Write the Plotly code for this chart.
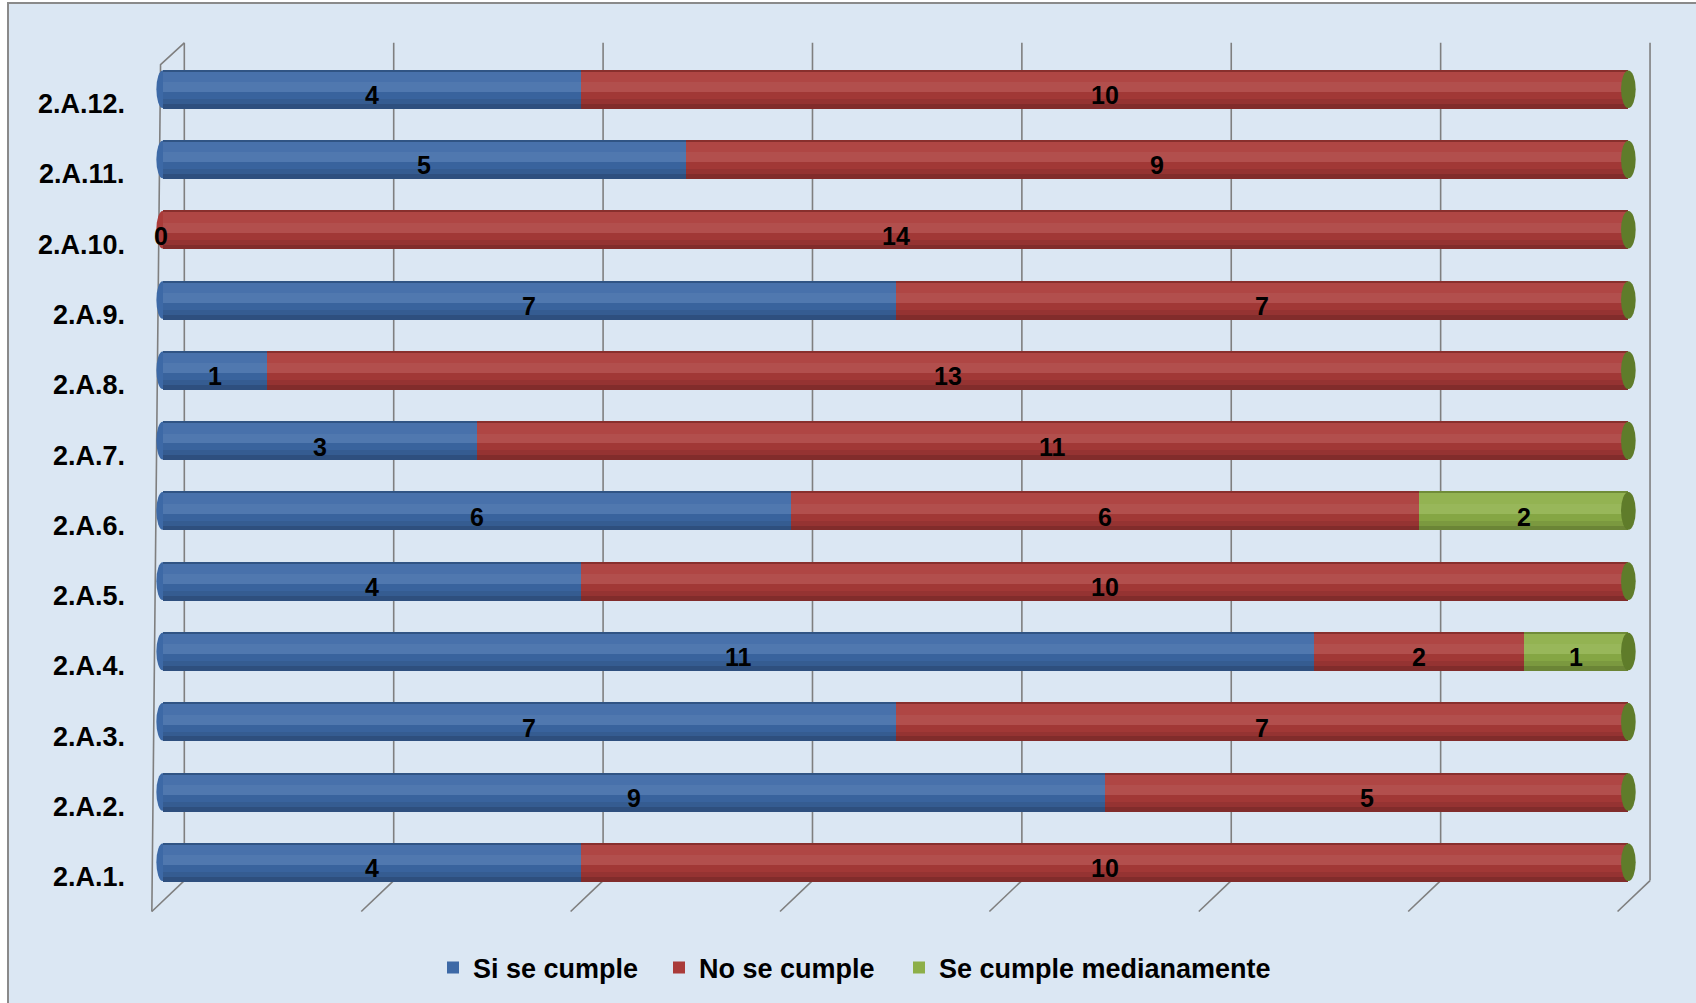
import plotly.graph_objects as go

# ---------------- data ----------------
categories = ["2.A.1.", "2.A.2.", "2.A.3.", "2.A.4.", "2.A.5.", "2.A.6.",
              "2.A.7.", "2.A.8.", "2.A.9.", "2.A.10.", "2.A.11.", "2.A.12."]
si_se_cumple = [4, 9, 7, 11, 4, 6, 3, 1, 7, 0, 5, 4]
no_se_cumple = [10, 5, 7, 2, 10, 6, 11, 13, 7, 14, 9, 10]
se_cumple_med = [None, None, None, 1, None, 2, None, None, None, None, None, None]
series_names = ["Si se cumple", "No se cumple", "Se cumple medianamente"]
x_ticks = [0, 2, 4, 6, 8, 10, 12, 14]

# ---------------- style ----------------
W, H = 1696, 1003
L, R, T, B = 126, 31, 40, 87
XR = [-0.35, 14.35]
YR = [-0.75, 11.7]
colors = ["#3D69A6", "#AA3B39", "#8DAF48"]
FONT = "Liberation Sans, Arial, sans-serif"
BAR_W = 0.555
HB = BAR_W / 2
legend_ids = ["legend", "legend2", "legend3"]
legend_px = [433, 659, 899]

series = [si_se_cumple, no_se_cumple, se_cumple_med]

fig = go.Figure()
for name, vals, col, lg in zip(series_names, series, colors, legend_ids):
    fig.add_trace(go.Bar(
        y=categories, x=vals, name=name, orientation="h",
        marker=dict(color=col, line=dict(width=0)), width=BAR_W,
        yaxis="y", hoverinfo="x+name", legend=lg))

# cylinder shading bands (offset, width, colour), each on its own overlay axis
bands = [
    (HB - 0.03, 0.03, "rgba(0,0,0,0.20)"),
    (0.10, HB - 0.13, "rgba(255,255,255,0.06)"),
    (-0.04, 0.14, "rgba(255,255,255,0.10)"),
    (-0.14, 0.10, "rgba(0,0,0,0.05)"),
    (-0.21, 0.07, "rgba(0,0,0,0.12)"),
    (-HB, HB - 0.21, "rgba(0,0,0,0.24)"),
]
overlay_axes = {}
for bi, (off, wid, rgba) in enumerate(bands):
    ax = "y%d" % (bi + 2)
    overlay_axes["yaxis%d" % (bi + 2)] = dict(
        type="category", categoryarray=categories, overlaying="y",
        matches="y", visible=False)
    for vals in series:
        fig.add_trace(go.Bar(
            y=categories, x=vals, orientation="h", showlegend=False,
            marker=dict(color=rgba, line=dict(width=0)),
            width=wid, offset=off, yaxis=ax, hoverinfo="skip"))

# ---------------- decorations ----------------
pw, ph = W - L - R, H - T - B
def px_x(p):
    return (p - L) / pw
def px_y(p):
    return 1 - (p - T) / ph

shapes = [dict(type="rect", xref="paper", yref="paper",
               x0=px_x(8), x1=px_x(W + 20), y0=px_y(H + 20), y1=px_y(3),
               fillcolor="#DBE7F3", line=dict(color="#8A8A8A", width=2),
               layer="below")]
gc = dict(color="#7F7F7F", width=1.6)
for k in x_ticks:
    shapes.append(dict(type="line", xref="x", yref="y", x0=k + 0.207, x1=k + 0.207,
                       y0=-0.26, y1=11.66, line=gc, layer="below"))
    shapes.append(dict(type="line", xref="x", yref="y", x0=k + 0.207, x1=k - 0.103,
                       y0=-0.26, y1=-0.70, line=gc, layer="below"))
shapes.append(dict(type="path", xref="x", yref="y",
                   path="M -0.103,-0.70 L -0.02,11.35 L 0.207,11.66",
                   line=gc, layer="below"))

lab_font = dict(family=FONT, size=25, color="black", weight="bold")
annotations = []
for i, cat in enumerate(categories):
    vals = [s[i] or 0 for s in series]
    total = sum(vals)
    first = next((c for v, c in zip(vals, colors) if v > 0), colors[1])
    # left rounded end
    shapes.append(dict(type="circle", xref="x", yref="y",
                       x0=-0.06, x1=0.06, y0=i - HB + 0.01, y1=i + HB - 0.01,
                       fillcolor=first, line=dict(width=0), layer="below"))
    # right end cap
    shapes.append(dict(type="circle", xref="x", yref="y",
                       x0=total - 0.07, x1=total + 0.07,
                       y0=i - HB + 0.01, y1=i + HB - 0.01,
                       fillcolor="#5F7C2A", line=dict(width=0), layer="above"))
    # category label (shifted down, like the 3-D original)
    annotations.append(dict(x=px_x(127), y=cat, xref="paper", yref="y",
                            text=cat, showarrow=False, xanchor="right",
                            yshift=-15,
                            font=dict(family=FONT, size=27, color="black",
                                      weight="bold")))
    # data labels
    base = 0
    for s in series:
        v = s[i]
        if v is not None:
            xpos = base + v / 2 if v > 0 else base - 0.02
            annotations.append(dict(x=xpos, y=cat, xref="x", yref="y",
                                    text=str(v), showarrow=False, yshift=-6,
                                    font=lab_font))
        base += v or 0

legends = {}
for lg, lx in zip(legend_ids, legend_px):
    legends[lg] = dict(orientation="h", x=px_x(lx), y=px_y(968), xanchor="left",
                       yanchor="middle", bgcolor="rgba(0,0,0,0)", itemwidth=30,
                       font=dict(family=FONT, size=27, color="black", weight="bold"))

fig.update_layout(
    width=W, height=H, margin=dict(l=L, r=R, t=T, b=B, pad=0),
    barmode="stack", bargap=0.445,
    paper_bgcolor="white", plot_bgcolor="rgba(0,0,0,0)",
    font=dict(family=FONT, color="black"),
    xaxis=dict(range=XR, showgrid=False, zeroline=False, showticklabels=False,
               tickvals=x_ticks, showline=False, fixedrange=True),
    yaxis=dict(type="category", categoryarray=categories, range=YR,
               showgrid=False, zeroline=False, showline=False,
               ticks="", showticklabels=False),
    shapes=shapes, annotations=annotations,
    showlegend=True,
    **legends,
    **overlay_axes,
)

fig.write_html("out.html")
